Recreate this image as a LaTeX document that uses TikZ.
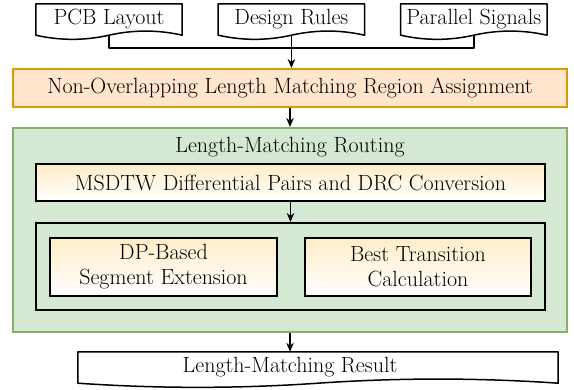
\documentclass[tikz,border=0pt]{standalone}
\usetikzlibrary{arrows.meta,calc,positioning}
\tikzset{>={Stealth[length=9pt,width=7.5pt]}}
\definecolor{regionfill}{HTML}{FFE6CC}
\definecolor{regionline}{HTML}{D79B00}
\definecolor{routefill}{HTML}{D5E8D4}
\definecolor{routeline}{HTML}{82B366}
\definecolor{steptop}{HTML}{FFEDC8}

% outline of a document node: straight top, wavy bottom
\newcommand{\docoutline}[1]{%
  \draw[docline] (#1.south west) -- (#1.north west) -- (#1.north east) -- (#1.south east)
    .. controls ($(#1.south east)!1/3!(#1.south)+(0,-5.5)$) and ($(#1.south east)!2/3!(#1.south)+(0,-5.5)$) .. (#1.south)
    .. controls ($(#1.south)!1/3!(#1.south west)+(0,5.5)$) and ($(#1.south)!2/3!(#1.south west)+(0,5.5)$) .. (#1.south west) -- cycle;}

\begin{document}
\begin{tikzpicture}[x=1pt, y=-1pt, node distance=36pt, font=\fontsize{22}{25}\selectfont,
		docbox/.style={minimum width=146pt,minimum height=31pt,inner sep=0pt},
		docline/.style={line width=1.5pt,line join=round},
		region/.style={draw=regionline,fill=regionfill,line width=2pt,minimum width=554pt,minimum height=38pt},
		route/.style={draw=routeline,fill=routefill,line width=2pt,minimum width=554pt,minimum height=204pt},
		stepbox/.style={draw=black,line width=2pt,top color=steptop,bottom color=white,minimum height=37pt,inner sep=0pt,align=center},
		flow/.style={->,line width=1.5pt}]
		\useasboundingbox (0,0) rectangle (574,390);

		% inputs
		\node[docbox]                   (pcb)     at (109,19.5) {PCB Layout};
		\node[docbox,right=36pt of pcb]   (rules)   {Design Rules};
		\node[docbox,right=36pt of rules] (signals) {Parallel Signals};
		\docoutline{pcb}
		\docoutline{rules}
		\docoutline{signals}

		% region assignment and routing
		\node[region] (assign) at (290,88) {Non-Overlapping Length Matching Region Assignment};
		\node[route]  (route)  at (290,230) {};
		\node (routetitle) at (290,147) {Length-Matching Routing};
		\node[stepbox,minimum width=509pt] (msdtw) at (290.5,182.5) {MSDTW Differential Pairs and DRC Conversion};
		\node[draw,line width=2pt,minimum width=509pt,minimum height=87pt] (inner) at (290.5,266.5) {};
		\node[stepbox,minimum width=227pt,minimum height=58pt] (dpext)  at (163.5,267) {DP-Based\\Segment Extension};
		\node[stepbox,minimum width=226pt,minimum height=58pt] (besttr) at (418,267)   {Best Transition\\Calculation};

		% output
		\node[docbox,minimum width=480pt,label={[xshift=-28pt]center:Length-Matching Result}] (result) at (318,367.5) {};
		\docoutline{result}

		% connectors
		\coordinate (join) at (rules.south |- 0,48);
		\draw[docline] (pcb.south) |- (join) -| (signals.south);
		\draw[flow] (rules.south) -- (rules.south |- assign.north);
		\draw[flow] (assign.south) -- (route.north);
		\draw[flow] (msdtw.south) -- (msdtw.south |- inner.north);
		\draw[flow] (route.south) -- (route.south |- result.north);
\end{tikzpicture}
\end{document}
